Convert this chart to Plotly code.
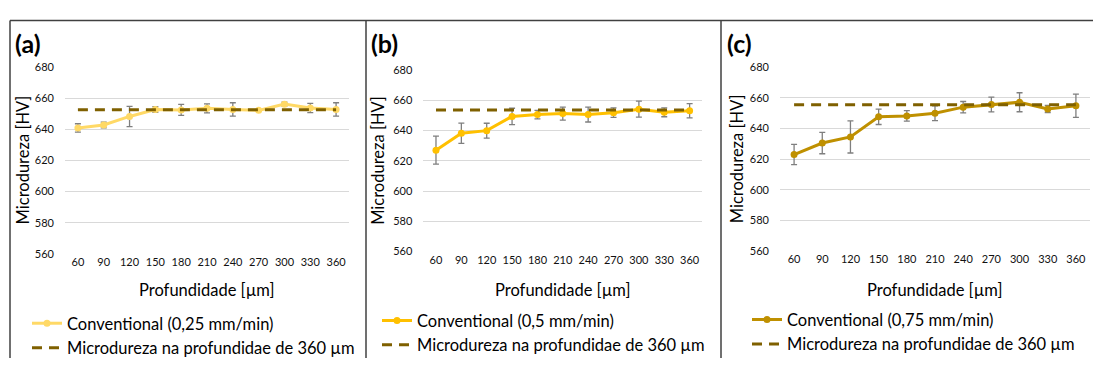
import plotly.graph_objects as go

W, H = 1093, 365

depth = [60, 90, 120, 150, 180, 210, 240, 270, 300, 330, 360]
y_ticks = [560, 580, 600, 620, 640, 660, 680]

hv_a = [640.8, 642.7, 648.2, 652.7, 652.4, 653.4, 652.7, 652.1, 656.1, 653.6, 652.7]
err_a = [2.7, 1.8, 6.5, 1.8, 3.5, 2.9, 4.3, 0.4, 1.3, 3.0, 4.3]
ref_a = 652.5

hv_b = [627.1, 638.3, 640.0, 649.4, 650.6, 651.3, 650.6, 651.9, 654.2, 652.1, 653.2]
err_b = [9.3, 6.7, 4.9, 5.4, 2.8, 4.3, 4.9, 3.1, 5.3, 2.9, 4.7]
ref_b = 653.6

hv_c = [623.1, 630.6, 634.6, 647.7, 648.3, 650.0, 654.0, 655.7, 657.2, 652.8, 654.9]
err_c = [6.6, 7.0, 10.5, 5.0, 3.4, 4.8, 3.7, 4.8, 6.2, 2.3, 7.6]
ref_c = 655.5

labels = ["(a)", "(b)", "(c)"]
series_names = ["Conventional (0,25 mm/min)", "Conventional (0,5 mm/min)", "Conventional (0,75 mm/min)"]
ref_name = "Microdureza na profundidae de 360 µm"
x_title = "Profundidade [µm]"
y_title = "Microdureza [HV]"

colors = ["#FFD966", "#FFC000", "#BF9000"]
ref_color = "#7F6000"
FONT = "Lato"

# pixel geometry of each panel: plot area (x0, x1, ytop, ybottom)
panels = [
    dict(x0=65, x1=349, yt=62.3, yb=256.7, lab_x=13, ytitle_x=23, leg_x=27, leg_y=311),
    dict(x0=423.3, x1=702.3, yt=65.7, yb=254.3, lab_x=369, ytitle_x=378, leg_x=377, leg_y=308),
    dict(x0=780, x1=1090, yt=62.7, yb=254, lab_x=725, ytitle_x=737, leg_x=747, leg_y=307),
]

def px(x):
    return x / W

def py(y):
    return 1 - y / H

data = [(hv_a, err_a, ref_a), (hv_b, err_b, ref_b), (hv_c, err_c, ref_c)]

fig = go.Figure()
layout = dict(
    width=W, height=H, margin=dict(l=0, r=0, t=0, b=0),
    paper_bgcolor="white", plot_bgcolor="white",
    font=dict(family=FONT, color="#000000"),
    showlegend=True,
)
annotations = []
shapes = []

for i, (p, (hv, err, ref)) in enumerate(zip(panels, data)):
    sfx = "" if i == 0 else str(i + 1)
    xa, ya = "x" + sfx, "y" + sfx
    leg = "legend" + sfx
    fig.add_trace(go.Scatter(
        x=depth, y=hv, xaxis=xa, yaxis=ya, mode="lines+markers",
        name=series_names[i], legend=leg,
        line=dict(color=colors[i], width=3),
        marker=dict(color=colors[i], size=7),
        error_y=dict(type="data", array=err, color="#7F7F7F", thickness=1.3, width=3),
    ))
    fig.add_trace(go.Scatter(
        x=[depth[0], depth[-1]], y=[ref, ref], xaxis=xa, yaxis=ya, mode="lines",
        name=ref_name, legend=leg,
        line=dict(color=ref_color, width=3, dash="10px,7px"),
    ))
    layout["xaxis" + sfx] = dict(
        domain=[px(p["x0"]), px(p["x1"])], anchor=ya, range=[45, 375],
        tickvals=depth, ticktext=[str(d) for d in depth], showgrid=False,
        zeroline=False, showline=False, ticks="", ticklen=0,
        tickfont=dict(family=FONT, size=11, color="#111111"), fixedrange=True,
    )
    layout["yaxis" + sfx] = dict(
        domain=[py(p["yb"]), py(p["yt"])], anchor=xa, range=[560, 680],
        tickvals=y_ticks, showgrid=True, gridcolor="#D9D9D9", gridwidth=1,
        zeroline=False, showline=False, ticks="", ticklabelstandoff=10,
        tickfont=dict(family=FONT, size=11, color="#111111"), fixedrange=True,
    )
    layout[leg] = dict(
        x=px(p["leg_x"]), y=py(p["leg_y"]), xanchor="left", yanchor="top",
        xref="paper", yref="paper", bgcolor="rgba(0,0,0,0)",
        font=dict(family=FONT, size=16.5, color="#000000"),
        itemwidth=30, tracegroupgap=0,
    )
    annotations.append(dict(
        x=px(p["lab_x"]), y=py(37), xref="paper", yref="paper",
        xanchor="left", yanchor="middle", text="<b>" + labels[i] + "</b>",
        showarrow=False, font=dict(family=FONT, size=25, color="#000000"),
    ))
    annotations.append(dict(
        x=px(p["ytitle_x"]), y=py((p["yt"] + p["yb"]) / 2), xref="paper", yref="paper",
        xanchor="center", yanchor="middle", text=y_title, textangle=-90,
        showarrow=False, font=dict(family=FONT, size=16.5, color="#000000"),
    ))
    annotations.append(dict(
        x=px((p["x0"] + p["x1"]) / 2), y=py(294), xref="paper", yref="paper",
        xanchor="center", yanchor="middle", text=x_title,
        showarrow=False, font=dict(family=FONT, size=16.5, color="#000000"),
    ))

# panel frames
frame = dict(type="line", xref="paper", yref="paper", line=dict(color="#404040", width=1.5))
shapes.append(dict(frame, x0=px(10), x1=1, y0=py(14), y1=py(14)))
for xv in [10, 366, 721]:
    shapes.append(dict(frame, x0=px(xv), x1=px(xv), y0=py(14), y1=0))

layout["annotations"] = annotations
layout["shapes"] = shapes
fig.update_layout(**layout)
fig.write_html("out.html", config={"displayModeBar": False})
